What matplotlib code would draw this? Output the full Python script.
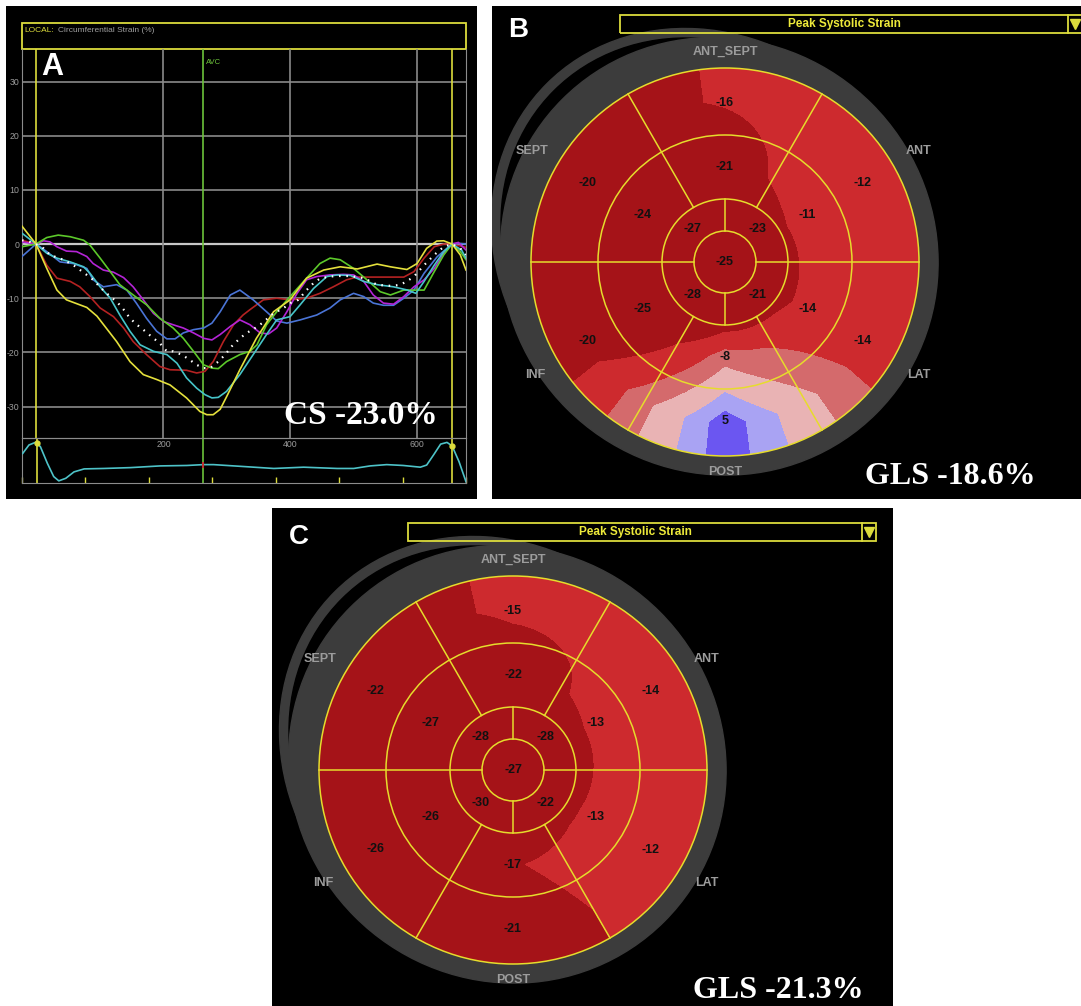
import numpy as np
import matplotlib
matplotlib.use('Agg')
import matplotlib.pyplot as plt
from matplotlib.patches import Rectangle, Circle, Ellipse

plt.rcParams['font.family'] = ['Liberation Sans', 'DejaVu Sans']

W, H = 1081, 1006

# ---- panel A: circumferential strain curves (time in ms, strain in %) ----
yellow_t = [-22, 0, 17, 33, 48, 80, 96, 127, 148, 169, 190, 211, 237, 258, 269, 279, 290, 300, 321, 347,
            374, 400, 426, 453, 479, 506, 537, 558, 584, 600, 615, 631, 642, 655, 668, 677]
yellow_v = [3.3, 0, -4.5, -8.5, -10.3, -11.7, -13.3, -18.0, -21.7, -24.1, -25.0, -26.0, -28.4, -30.9, -31.5,
            -31.5, -30.5, -28.2, -23.2, -17.4, -12.5, -10.3, -6.3, -4.8, -4.2, -4.6, -3.7, -4.2, -4.7, -3.6,
            -0.8, 0.55, 0.6, 0, -2.0, -4.8]
green_t = [-22, 0, 17, 35, 54, 75, 85, 101, 117, 132, 153, 174, 195, 216, 232, 248, 264, 277, 287, 300, 321,
           337, 348, 363, 379, 400, 426, 447, 463, 479, 500, 521, 542, 558, 579, 595, 611, 627, 642, 655, 668, 677]
green_v = [-0.5, 0, 1.2, 1.65, 1.35, 0.7, -0.2, -2.6, -5.1, -7.5, -9.4, -11.2, -13.7, -15.5, -17.4, -19.8,
           -22.3, -22.9, -23.0, -21.7, -20.4, -19.8, -18.6, -14.9, -12.5, -9.7, -6.3, -3.6, -2.6, -2.9, -4.5,
           -6.6, -8.8, -9.4, -8.5, -8.5, -8.5, -5.1, -2.0, 0, -1.4, -2.9]
red_t = [-22, 0, 17, 33, 54, 69, 85, 101, 122, 138, 153, 174, 195, 211, 237, 253, 266, 279, 295, 311, 326,
         337, 358, 379, 400, 426, 447, 468, 489, 505, 531, 558, 579, 595, 611, 627, 642, 655, 677]
red_v = [0.7, 0, -3.9, -6.3, -6.9, -7.9, -9.7, -11.8, -13.4, -15.5, -18.0, -20.4, -22.6, -23.2, -23.3, -23.8,
         -23.5, -21.7, -18.0, -14.9, -13.1, -12.1, -10.3, -10.0, -10.3, -10.0, -9.1, -7.9, -6.6, -6.1, -6.1,
         -6.1, -6.1, -5.1, -2.6, -0.5, 0, 0, -0.6]
cyan_t = [-22, 0, 17, 33, 54, 75, 85, 101, 117, 132, 148, 164, 185, 206, 222, 237, 253, 266, 277, 287, 300,
          321, 342, 363, 379, 400, 416, 437, 458, 474, 495, 516, 537, 563, 585, 598, 611, 627, 642, 655, 670, 677]
cyan_v = [2.0, 0, -1.7, -2.6, -3.3, -4.2, -5.4, -7.9, -10.0, -13.1, -16.1, -18.6, -19.8, -20.4, -22.0, -24.7,
          -26.6, -27.8, -28.4, -28.3, -27.2, -24.1, -20.4, -16.7, -14.0, -13.4, -11.2, -8.2, -6.0, -5.7, -5.8,
          -6.9, -7.5, -7.9, -8.5, -9.1, -6.9, -3.9, -1.4, 0, -1.1, -2.6]
blue_t = [-22, 0, 17, 27, 38, 59, 80, 90, 106, 127, 143, 158, 174, 190, 206, 219, 232, 248, 264, 277, 290,
          306, 321, 342, 363, 379, 395, 416, 442, 463, 479, 500, 516, 531, 547, 563, 579, 595, 611, 632, 655,
          668, 677]
blue_v = [-2.3, 0, -1.4, -2.3, -3.3, -3.6, -4.5, -6.6, -7.9, -7.5, -8.5, -10.9, -13.7, -16.1, -17.5, -17.5,
          -16.4, -15.8, -15.5, -14.6, -12.5, -9.4, -8.5, -10.3, -12.5, -14.2, -14.6, -14.0, -13.1, -11.8, -10.3,
          -9.1, -9.7, -10.9, -11.3, -11.3, -10.0, -8.5, -5.4, -2.3, 0, 0.1, 0]
magenta_t = [-22, 0, 12, 22, 33, 48, 64, 80, 90, 106, 122, 138, 153, 169, 185, 201, 216, 232, 248, 264, 277,
             290, 306, 321, 337, 353, 366, 379, 395, 411, 426, 442, 463, 484, 500, 516, 531, 547, 563, 579, 595,
             611, 627, 642, 655, 665, 677]
magenta_v = [0.4, 0, 0.6, 0.4, -0.5, -1.3, -1.4, -2.3, -3.6, -4.8, -5.2, -6.2, -7.9, -10.3, -12.8, -14.3,
             -14.9, -15.5, -16.4, -17.4, -17.7, -16.7, -15.2, -14.0, -14.9, -16.4, -16.6, -15.5, -12.5, -9.1,
             -6.6, -6.0, -5.7, -5.6, -5.7, -6.9, -9.4, -10.9, -11.1, -9.7, -7.9, -6.6, -4.5, -1.7, 0, 0.3, -1.1]
mean_t = [-22, -10, 0, 12, 22, 43, 59, 80, 90, 103, 117, 127, 138, 148, 159, 172, 185, 195, 206, 216, 229,
          240, 253, 264, 274, 287, 298, 308, 321, 332, 345, 356, 374, 390, 400, 413, 426, 437, 448, 463, 474,
          495, 516, 537, 553, 563, 574, 585, 595, 611, 627, 642, 655, 668, 677]
mean_v = [0.7, 0.4, 0, -0.8, -2.0, -2.9, -3.9, -5.7, -6.6, -8.2, -9.7, -10.6, -12.1, -13.7, -14.9, -16.1,
          -17.4, -18.3, -19.8, -19.8, -20.4, -21.2, -22.3, -22.9, -22.9, -21.7, -20.4, -18.9, -17.4, -16.4,
          -15.5, -14.6, -12.8, -11.8, -10.9, -10.3, -8.5, -7.2, -6.3, -6.0, -5.9, -5.9, -6.3, -7.5, -7.7, -7.7,
          -7.5, -6.8, -6.0, -3.9, -2.0, -0.5, 0, -0.8, -2.0]

# ECG trace under the strain plot (normalised amplitude)
ecg_t = [-22, -12, -2, 0, 6, 17, 27, 35, 46, 59, 75, 106, 148, 195, 237, 263, 279, 332, 374, 421, 474, 500,
         526, 552, 578, 605, 615, 626, 637, 647, 655, 666, 677]
ecg_v = [0.66, 0.86, 0.92, 0.90, 0.82, 0.43, 0.12, 0.02, 0.08, 0.23, 0.30, 0.31, 0.33, 0.37, 0.38, 0.40,
         0.40, 0.35, 0.31, 0.34, 0.31, 0.31, 0.37, 0.40, 0.38, 0.34, 0.39, 0.63, 0.88, 0.92, 0.84, 0.47, 0.0]

y_grid = [30, 20, 10, 0, -10, -20, -30]
x_grid = [200, 400, 600]
ecg_ticks = [-23, 77, 177, 277, 377, 477, 577, 677]
cycle_marks = [0, 655]
avc_time = 263

# ---- panels B and C: 17-segment peak systolic strain (%) ----
# outer and mid rings at 90,150,210,270,330,30 deg; inner ring at 135,225,315,45 deg
ring6_ang = [90, 150, 210, 270, 330, 30]
ring4_ang = [135, 225, 315, 45]
wall_names = ['ANT_SEPT', 'SEPT', 'INF', 'POST', 'LAT', 'ANT']

b_outer = [-16, -20, -20, 5, -14, -12]
b_mid = [-21, -24, -25, -8, -14, -11]
b_inner = [-27, -28, -21, -23]
b_apex = -25

c_outer = [-15, -22, -26, -21, -12, -14]
c_mid = [-22, -27, -26, -17, -13, -13]
c_inner = [-28, -30, -22, -28]
c_apex = -27

strain_levels = [-100, -16.5, -10.5, -6, -1, 2.7, 100]
strain_colors = ['#a51318', '#cd2a2e', '#d46a6c', '#e9b3b4', '#a9a3f3', '#6b56f1']

YEL = '#dcdc3c'
GRID = '#8a8a8a'
TXT_GRAY = '#9c9c9c'
RING_GRAY = '#3c3c3c'

fig = plt.figure(figsize=(W / 100, H / 100), dpi=100, facecolor='white')


def px_axes(x0, y0, x1, y1):
    return fig.add_axes([x0 / W, 1 - y1 / H, (x1 - x0) / W, (y1 - y0) / H])


# ================= panel A =================
bg = px_axes(6, 6, 477, 499)
bg.set_xlim(6, 477)
bg.set_ylim(499, 6)
bg.axis('off')
bg.add_patch(Rectangle((6, 6), 471, 493, color='black'))
bg.add_patch(Rectangle((22, 23), 444, 26, fill=False, ec=YEL, lw=1.3))
bg.text(24, 30, 'LOCAL:', color=YEL, fontsize=6, va='center')
bg.text(58, 30, 'Circumferential Strain (%)', color='#a0a0a0', fontsize=6, va='center')
bg.text(52, 67, 'A', color='white', fontsize=22, fontweight='bold', ha='center', va='center')

axA = px_axes(22, 49, 466, 438)
axA.set_facecolor('none')
axA.set_xlim(-22, 677)
axA.set_ylim(-35.8, 36.0)
for s in ['left', 'right', 'bottom']:
    axA.spines[s].set_color('#8c8c8c')
axA.spines['top'].set_visible(False)
axA.set_xticks([])
axA.set_yticks(y_grid)
axA.set_yticklabels([str(v) for v in y_grid])
axA.tick_params(axis='y', length=0, pad=2, labelsize=6.3, labelcolor=TXT_GRAY)
for y in y_grid:
    if y == 0:
        axA.axhline(y, color='#c8c8c8', lw=1.6, zorder=1)
    else:
        axA.axhline(y, color=GRID, lw=1.2, zorder=1)
for x in x_grid:
    axA.axvline(x, color=GRID, lw=1.2, zorder=1)
for x in cycle_marks:
    axA.axvline(x, color=YEL, lw=1.2, zorder=2)
axA.axvline(avc_time, color='#6cc23a', lw=1.2, zorder=2)
axA.text(avc_time + 5, 33.6, 'AVC', color='#6cc23a', fontsize=5.5, va='center')

curves = [
    (red_t, red_v, '#b42222'),
    (blue_t, blue_v, '#4a74d6'),
    (magenta_t, magenta_v, '#b424d6'),
    (green_t, green_v, '#5cc82a'),
    (cyan_t, cyan_v, '#46c4c8'),
    (yellow_t, yellow_v, '#e4e03c'),
]
for t, v, c in curves:
    axA.plot(t, v, color=c, lw=1.2, zorder=3)
axA.plot(mean_t, mean_v, color='white', lw=1.6, linestyle=(0, (0.7, 2.6)), zorder=4)
axA.text(512, -31.7, 'CS -23.0%', color='white', fontsize=24, fontweight='bold',
         family='Liberation Serif', ha='center', va='center', zorder=5)

axE = px_axes(22, 438, 466, 483)
axE.set_facecolor('none')
axE.set_xlim(-22, 677)
axE.set_ylim(-0.03, 1.023)
for s in axE.spines.values():
    s.set_color('#8c8c8c')
axE.set_yticks([])
axE.set_xticks(ecg_ticks)
axE.tick_params(axis='x', direction='in', length=4, width=1, color=YEL, labelbottom=False)
for x in cycle_marks:
    axE.axvline(x, color=YEL, lw=1.2)
axE.axvline(avc_time, color='#6cc23a', lw=1.2)
axE.plot(ecg_t, ecg_v, color='#4ec3c8', lw=1.2, zorder=3)
for x in cycle_marks:
    i = ecg_t.index(x)
    axE.plot(ecg_t[i], ecg_v[i], 'o', ms=3.5, mfc=YEL, mec=YEL, zorder=4)
j = ecg_t.index(avc_time)
axE.plot(ecg_t[j], ecg_v[j], marker='|', ms=5, mew=1.5, color='#c03030', zorder=4)
for x in x_grid:
    axE.text(x, 0.86, str(x), color=TXT_GRAY, fontsize=6.3, ha='center', va='center')


# ================= bull's eye panels =================
R = 194
R_APEX, R_INNER, R_MID = 31, 63, 127


def bullseye(ax, outer, mid, inner, apex, box_right, sep_x, letter, letter_xy, gls, gls_xy):
    ax.axis('off')
    ax.add_patch(Rectangle((-1000, -1000), 2000, 2000, color='black', zorder=0))

    # grey rim, with the swirl and its black gap at the upper left
    k = np.sqrt(0.5)
    ax.add_patch(Ellipse((-20 * k, 20 * k), 464, 412, angle=135, color=RING_GRAY, zorder=1))
    ax.add_patch(Ellipse((-20 * k, 20 * k), 444, 394, angle=135, color='black', zorder=2))
    ax.add_patch(Ellipse((-8 * k, 8 * k), 444, 431, angle=135, color=RING_GRAY, zorder=3))

    # smooth strain map from the segment values
    g = np.linspace(-R, R, 601)
    X, Y = np.meshgrid(g, g)
    rr = np.hypot(X, Y) / R
    th = np.degrees(np.arctan2(Y, X)) % 360
    v_out = np.interp(th, ring6_ang, outer, period=360)
    v_mid = np.interp(th, ring6_ang, mid, period=360)
    v_in = np.interp(th, ring4_ang, inner, period=360)
    r1, r2, r3 = 0.24, 0.49, 0.83
    V = np.where(rr < r1, apex + (v_in - apex) * rr / r1,
        np.where(rr < r2, v_in + (v_mid - v_in) * (rr - r1) / (r2 - r1),
        np.where(rr < r3, v_mid + (v_out - v_mid) * (rr - r2) / (r3 - r2), v_out)))
    V = np.ma.masked_where(rr > 1.02, V)
    cs = ax.contourf(X, Y, V, levels=strain_levels, colors=strain_colors, zorder=4)
    cs.set_clip_path(Circle((0, 0), R, transform=ax.transData))

    # segment borders
    for r in [R_APEX, R_INNER, R_MID, R]:
        ax.add_patch(Circle((0, 0), r, fill=False, ec='#e6dc2c', lw=1.1, zorder=5))
    for a, r0, r1_ in [(0, R_APEX, R), (180, R_APEX, R), (60, R_INNER, R), (120, R_INNER, R),
                       (240, R_INNER, R), (300, R_INNER, R), (90, R_APEX, R_INNER), (270, R_APEX, R_INNER)]:
        c, s = np.cos(np.radians(a)), np.sin(np.radians(a))
        ax.plot([r0 * c, r1_ * c], [r0 * s, r1_ * s], color='#e6dc2c', lw=1.1, zorder=5)

    # segment values
    for vals, angs, rad in [(outer, ring6_ang, 159), (mid, ring6_ang, 95), (inner, ring4_ang, 46)]:
        for v, a in zip(vals, angs):
            ax.text(rad * np.cos(np.radians(a)), rad * np.sin(np.radians(a)), str(v),
                    fontsize=9, fontweight='bold', color='#111111', ha='center', va='center', zorder=6)
    ax.text(0, 0, str(apex), fontsize=9, fontweight='bold', color='#111111',
            ha='center', va='center', zorder=6)

    # wall names on the rim
    name_xy = [(0, 210), (-193, 111), (-190, -113), (0, -210), (194, -113), (194, 111)]
    for name, (x, y) in zip(wall_names, name_xy):
        ax.text(x, y, name, fontsize=9, fontweight='bold', color=TXT_GRAY,
                ha='center', va='center', zorder=6)

    # title box
    ax.add_patch(Rectangle((-105, 229), box_right + 105, 18, fill=False, ec=YEL, lw=1.3, zorder=6))
    ax.plot([sep_x, sep_x], [229, 247], color=YEL, lw=1.3, zorder=6)
    ax.plot(sep_x + 6.5, 238.5, marker='v', ms=6.5, color=YEL, zorder=6)
    ax.text((sep_x - 105) / 2, 238, 'Peak Systolic Strain', fontsize=8.5, fontweight='bold',
            color='#eeea3a', ha='center', va='center', zorder=6)

    ax.text(letter_xy[0], letter_xy[1], letter, fontsize=20, fontweight='bold', color='white',
            ha='center', va='center', zorder=6)
    ax.text(gls_xy[0], gls_xy[1], gls, fontsize=23, fontweight='bold', family='Liberation Serif',
            color='white', ha='center', va='center', zorder=6)


axB = px_axes(492, 6, 1081, 499)
axB.set_xlim(492 - 725, 1081 - 725)
axB.set_ylim(262 - 499, 262 - 6)
bullseye(axB, b_outer, b_mid, b_inner, b_apex, 358, 343, 'B', (-207, 232), 'GLS -18.6%', (225, -215))

axC = px_axes(272, 508, 893, 1006)
axC.set_xlim(272 - 513, 893 - 513)
axC.set_ylim(770 - 1006, 770 - 508)
bullseye(axC, c_outer, c_mid, c_inner, c_apex, 363, 349, 'C', (-214, 233), 'GLS -21.3%', (265, -220))

fig.savefig('out.png', dpi=100, facecolor='white')
